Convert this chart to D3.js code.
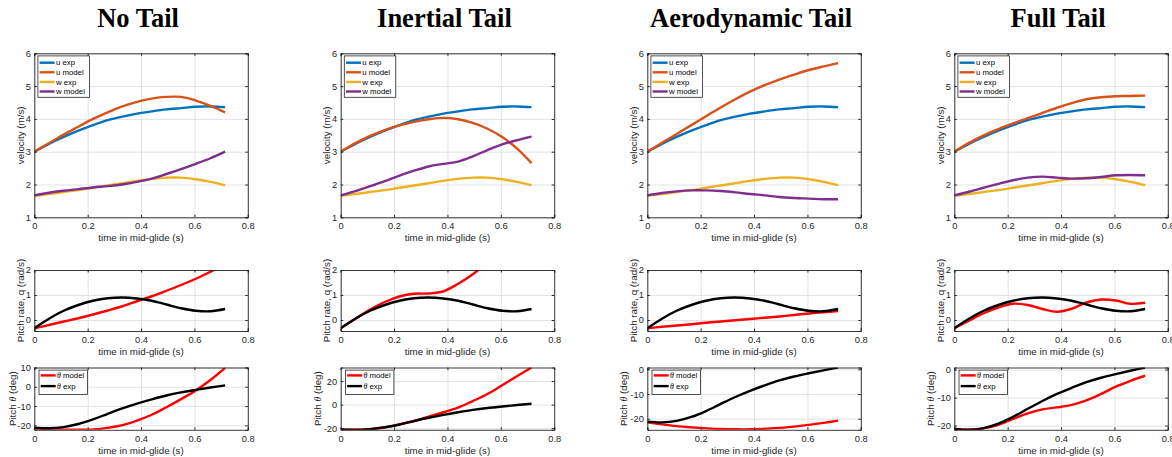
<!DOCTYPE html>
<html>
<head>
<meta charset="utf-8">
<script src="https://cdn.jsdelivr.net/npm/d3@7"></script>
<style>
  body { margin: 0; background: #fff; }
</style>
</head>
<body>
<svg id="chart" width="1172" height="457" font-family="'Liberation Sans', Arial, Helvetica, sans-serif"></svg>
<script>
// time samples (s)
const time = [0, 0.055, 0.11, 0.165, 0.22, 0.275, 0.33, 0.385, 0.44, 0.495, 0.55, 0.605, 0.66, 0.715];
const timeTicks = [0, 0.2, 0.4, 0.6, 0.8];
const titles = ["No Tail", "Inertial Tail", "Aerodynamic Tail", "Full Tail"];

// experiment (same in every case)
const uExp = [3.0, 3.24, 3.45, 3.64, 3.81, 3.96, 4.07, 4.16, 4.23, 4.29, 4.33, 4.37, 4.38, 4.36];
const wExp = [1.66, 1.71, 1.77, 1.83, 1.9, 1.97, 2.04, 2.11, 2.17, 2.21, 2.21, 2.16, 2.08, 1.98];
const qExp = [-0.33, 0.05, 0.37, 0.6, 0.77, 0.87, 0.9, 0.86, 0.77, 0.62, 0.47, 0.37, 0.35, 0.44];
const thetaExp = [-21.2, -21.5, -20.9, -19.3, -16.9, -14.0, -11.2, -8.7, -6.5, -4.5, -2.9, -1.6, -0.4, 0.75];

// model, one row per case
const uModel = [
  [3.0, 3.26, 3.52, 3.76, 4.0, 4.2, 4.38, 4.52, 4.62, 4.67, 4.67, 4.56, 4.4, 4.2],
  [3.0, 3.26, 3.48, 3.66, 3.8, 3.91, 3.99, 4.03, 3.99, 3.88, 3.7, 3.45, 3.1, 2.65],
  [3.0, 3.27, 3.54, 3.81, 4.08, 4.35, 4.6, 4.83, 5.03, 5.2, 5.35, 5.49, 5.6, 5.7],
  [3.0, 3.27, 3.5, 3.69, 3.86, 4.02, 4.18, 4.34, 4.48, 4.6, 4.66, 4.69, 4.7, 4.71]
];
const wModel = [
  [1.67, 1.75, 1.81, 1.86, 1.91, 1.95, 2.0, 2.08, 2.18, 2.32, 2.47, 2.63, 2.8, 3.0],
  [1.67, 1.8, 1.95, 2.1, 2.27, 2.42, 2.55, 2.63, 2.7, 2.86, 3.05, 3.22, 3.35, 3.46],
  [1.67, 1.74, 1.79, 1.82, 1.82, 1.8, 1.76, 1.71, 1.67, 1.62, 1.59, 1.57, 1.55, 1.55],
  [1.67, 1.78, 1.9, 2.02, 2.13, 2.21, 2.24, 2.21, 2.18, 2.19, 2.23, 2.28, 2.29, 2.28]
];
const qModel = [
  [-0.33, -0.2, -0.06, 0.07, 0.22, 0.38, 0.55, 0.75, 0.95, 1.17, 1.4, 1.65, 1.93, 2.22],
  [-0.33, 0.05, 0.42, 0.72, 0.94, 1.05, 1.06, 1.15, 1.45, 1.83, 2.3, 2.8, 3.3, 3.8],
  [-0.33, -0.27, -0.22, -0.17, -0.11, -0.06, -0.01, 0.04, 0.09, 0.14, 0.2, 0.26, 0.31, 0.36],
  [-0.33, -0.03, 0.27, 0.5, 0.65, 0.6, 0.44, 0.33, 0.45, 0.7, 0.82, 0.78, 0.65, 0.69]
];
const thetaModel = [
  [-21.5, -21.9, -22.2, -22.3, -22.1, -21.3, -19.9, -17.5, -14.5, -10.6, -6.4, -1.9, 3.5, 9.8],
  [-21.0, -21.4, -20.8, -19.2, -16.8, -13.9, -10.2, -6.5, -2.5, 3.0, 9.0, 16.5, 24.0, 31.5],
  [-21.5, -22.3, -23.0, -23.5, -23.9, -24.2, -24.3, -24.3, -24.1, -23.7, -23.2, -22.5, -21.7, -20.8],
  [-21.2, -21.5, -21.0, -19.7, -17.6, -15.6, -14.2, -13.5, -12.6, -11.0, -8.7, -6.1, -4.0, -2.2]
];

// axis limits and ticks
const velLimits = [1, 6];
const velTicks = [1, 2, 3, 4, 5, 6];
const qLimits = [-0.44, 2];
const qTicks = [0, 1, 2];
const thetaLimits = [[-22.3, 10], [-21.4, 31.5], [-24.5, 0.75], [-21.5, 0.75]];
const thetaTicks = [[-20, -10, 0, 10], [-20, 0, 20], [-20, -10, 0], [-20, -10, 0]];

const C = { blue: "#0072BD", orange: "#D95319", yellow: "#EDB120", purple: "#7E2F8E", red: "#FF0000", black: "#000000" };
const axisColor = "#262626";
const gridColor = "#e2e2e2";
const serif = "'Liberation Serif', 'Times New Roman', serif";

const svg = d3.select("#chart");
const colLeft = [34.3, 340.7, 647.3, 954.3];
const axW = 213.5;
const rowBox = [{ top: 53.3, h: 164 }, { top: 270, h: 61 }, { top: 367.5, h: 62.3 }];
let clipCount = 0;

function drawPanel(left, top, w, h, yDomain, yTicks, series, ylabel, ylabelOff, legend) {
  const x = d3.scaleLinear().domain([0, 0.8]).range([left, left + w]);
  const y = d3.scaleLinear().domain(yDomain).range([top + h, top]);
  const g = svg.append("g");

  // grid
  g.append("g").attr("class", "grid").attr("transform", `translate(0,${top + h})`)
    .call(d3.axisBottom(x).tickValues(timeTicks).tickSize(-h).tickFormat(""));
  g.append("g").attr("class", "grid").attr("transform", `translate(${left},0)`)
    .call(d3.axisLeft(y).tickValues(yTicks).tickSize(-w).tickFormat(""));
  g.selectAll(".grid .domain").remove();
  g.selectAll(".grid line").attr("stroke", gridColor);

  // curves
  const id = "clip" + (clipCount++);
  g.append("clipPath").attr("id", id).append("rect")
    .attr("x", left).attr("y", top).attr("width", w).attr("height", h);
  const line = d3.line().x((d, i) => x(time[i])).y(d => y(d)).curve(d3.curveCatmullRom);
  g.append("g").attr("clip-path", `url(#${id})`)
    .selectAll("path").data(series).join("path")
    .attr("d", s => line(s.values))
    .attr("fill", "none")
    .attr("stroke", s => s.color)
    .attr("stroke-width", 2.4)
    .attr("stroke-linejoin", "round");

  // box + inward ticks
  const tk = 2.5;
  const frame = g.append("g").attr("class", "frame");
  frame.append("g").attr("transform", `translate(0,${top + h})`)
    .call(d3.axisBottom(x).tickValues(timeTicks).tickSize(-tk).tickPadding(5.4).tickFormat(d => String(d)));
  frame.append("g").attr("transform", `translate(${left},0)`)
    .call(d3.axisLeft(y).tickValues(yTicks).tickSize(-tk).tickPadding(3.5).tickFormat(d => String(d)));
  frame.append("g").attr("transform", `translate(0,${top})`)
    .call(d3.axisTop(x).tickValues(timeTicks).tickSize(-tk).tickFormat(""));
  frame.append("g").attr("transform", `translate(${left + w},0)`)
    .call(d3.axisRight(y).tickValues(yTicks).tickSize(-tk).tickFormat(""));
  frame.selectAll(".domain").attr("stroke", axisColor).attr("stroke-width", 0.9);
  frame.selectAll(".tick line").attr("stroke", axisColor);
  frame.selectAll(".tick text").attr("fill", axisColor).attr("font-size", 9.3)
    .attr("font-family", "'Liberation Sans', Arial, sans-serif");

  // labels
  g.append("text")
    .attr("x", left + w / 2).attr("y", top + h + 24)
    .attr("text-anchor", "middle").attr("font-size", 9.8).attr("fill", axisColor)
    .text("time in mid-glide (s)");
  const yl = g.append("text")
    .attr("transform", `translate(${left - ylabelOff},${top + h / 2}) rotate(-90)`)
    .attr("text-anchor", "middle").attr("dy", "0.35em")
    .attr("font-size", 9.8).attr("fill", axisColor);
  ylabel(yl);

  // legend
  if (legend) {
    const lg = g.append("g").attr("transform", `translate(${left + legend.dx},${top + 2.6})`);
    lg.append("rect").attr("width", legend.w).attr("height", legend.rowH * series.length + 3)
      .attr("fill", "#fff").attr("stroke", axisColor).attr("stroke-width", 0.8);
    const items = lg.selectAll("g").data(series).join("g")
      .attr("transform", (d, i) => `translate(0,${legend.first + i * legend.rowH})`);
    items.append("line").attr("x1", 1.7).attr("x2", 16.7)
      .attr("stroke", d => d.color).attr("stroke-width", 2.4);
    items.append("text").attr("x", 18).attr("dy", "0.35em")
      .attr("font-size", 7.8).attr("fill", "#000")
      .each(function (d) { d.label(d3.select(this)); });
  }
}

function plain(s) { return t => t.text(s); }
function theta(rest) {
  return t => {
    t.append("tspan").attr("font-family", serif).attr("font-style", "italic").text("\u03b8");
    t.append("tspan").text(rest);
  };
}

titles.forEach((title, c) => {
  const left = colLeft[c];
  svg.append("text")
    .attr("x", left + axW / 2 - 3).attr("y", 26.7)
    .attr("text-anchor", "middle")
    .attr("font-family", serif)
    .attr("font-weight", "bold").attr("font-size", 26.5).attr("fill", "#000")
    .text(title);

  drawPanel(left, rowBox[0].top, axW, rowBox[0].h, velLimits, velTicks, [
    { values: uExp, color: C.blue, label: plain("u exp") },
    { values: uModel[c], color: C.orange, label: plain("u model") },
    { values: wExp, color: C.yellow, label: plain("w exp") },
    { values: wModel[c], color: C.purple, label: plain("w model") }
  ], t => t.text("velocity (m/s)"), 14, { dx: 3.6, w: 51.5, rowH: 9.6, first: 6.8 });

  drawPanel(left, rowBox[1].top, axW, rowBox[1].h, qLimits, qTicks, [
    { values: qModel[c], color: C.red },
    { values: qExp, color: C.black }
  ], t => t.text("Pitch rate, q (rad/s)"), 14, null);

  drawPanel(left, rowBox[2].top, axW, rowBox[2].h, thetaLimits[c], thetaTicks[c], [
    { values: thetaModel[c], color: C.red, label: theta(" model") },
    { values: thetaExp, color: C.black, label: theta(" exp") }
  ], t => {
    t.append("tspan").text("Pitch ");
    t.append("tspan").attr("font-family", serif).attr("font-style", "italic").text("\u03b8");
    t.append("tspan").text(" (deg)");
  }, c === 0 ? 22 : 23.5, { dx: 4.7, w: 48.5, rowH: 10.7, first: 5.3 });
});
</script>
</body>
</html>
